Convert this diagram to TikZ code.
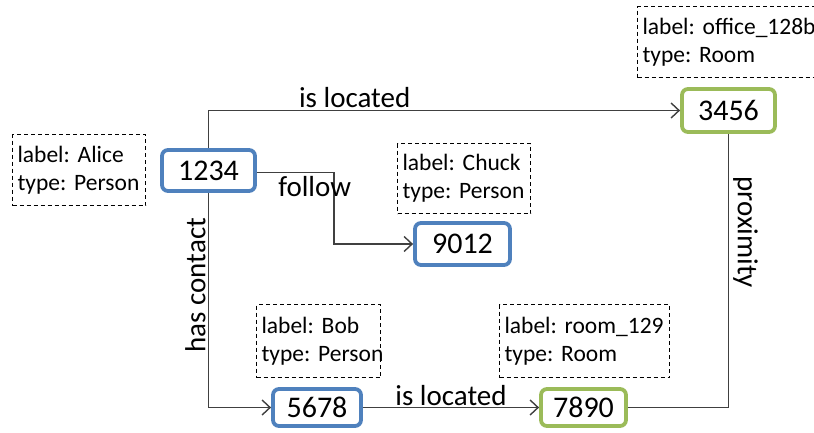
\documentclass[tikz,border=0pt]{standalone}
\usepackage{fontspec}
\setmainfont{Carlito}
\usetikzlibrary{arrows.meta}
\definecolor{nblue}{HTML}{4F81BD}
\definecolor{ngreen}{HTML}{9BBB59}
\definecolor{lgray}{HTML}{404040}
\frenchspacing
\hyphenpenalty=10000
\exhyphenpenalty=10000
\hbadness=10000
\hfuzz=50pt
\begin{document}
\begin{tikzpicture}[x=1pt,y=-1pt,
  idnode/.style={draw, line width=3.8pt, rounded corners=6pt, fill=white, inner sep=0pt,
    font=\fontsize{30}{36}\selectfont},
  person/.style={idnode, draw=nblue},
  room/.style={idnode, draw=ngreen},
  dbox/.style={draw, dashed, dash pattern=on 4pt off 3pt, line width=1.1pt, align=left,
    inner xsep=5pt, inner ysep=2pt, font=\fontsize{23.5}{28}\selectfont, anchor=north west},
  edge/.style={draw=lgray, line width=1.6pt},
  arr/.style={edge, -{Straight Barb[length=8pt,width=15pt,line width=1.4pt]}},
  elab/.style={font=\fontsize{29}{34}\selectfont, inner sep=2pt}
]
\clip (0,0) rectangle (814,432);
\fill[white] (0,0) rectangle (814,432);

% dashed annotation boxes
\node[dbox, text width=123pt, minimum height=71pt] (dAlice) at (12,134) {label:~Alice\\type:~Person};
\node[dbox, text width=123pt, minimum height=70pt] (dChuck) at (397,143) {label:~Chuck\\type:~Person};
\node[dbox, text width=180pt, minimum height=71pt] (dOffice) at (637,6) {label:~office\_128b\\type:~Room};
\node[dbox, text width=114pt, minimum height=73pt] (dBob) at (256,304) {label:~Bob\\type:~Person};
\node[dbox, text width=160pt, minimum height=73pt] (dRoom) at (499,304) {label:~room\_129\\type:~Room};

% id nodes
\node[person, minimum width=93pt, minimum height=41pt] (n1234) at (208.5,170.5) {1234};
\node[room,   minimum width=93pt, minimum height=43pt] (n3456) at (728.5,110.5) {3456};
\node[person, minimum width=95pt, minimum height=42pt] (n9012) at (462.5,244) {9012};
\node[person, minimum width=88pt, minimum height=37pt] (n5678) at (317,407.5) {5678};
\node[room,   minimum width=85pt, minimum height=37pt] (n7890) at (583.5,407.5) {7890};

% connectors
\draw[arr] (n1234.north) |- node[elab, above, pos=0.655] {is located} (n3456.west);
\draw[arr] ([yshift=-2pt]n1234.east) -- node[elab, below, pos=0.75, inner sep=3pt] {follow} ++(77,0) |- (n9012.west);
\draw[arr] (n1234.south) |- node[elab, rotate=90, anchor=south, pos=0.215] {has contact} (n5678.west);
\draw[arr] (n5678.east) -- node[elab, above, inner sep=1pt] {is located} (n7890.west);
\draw[edge] (n7890.east) -| node[elab, rotate=-90, anchor=south, pos=0.82, inner sep=4pt] {proximity} (n3456.south);
\end{tikzpicture}
\end{document}
